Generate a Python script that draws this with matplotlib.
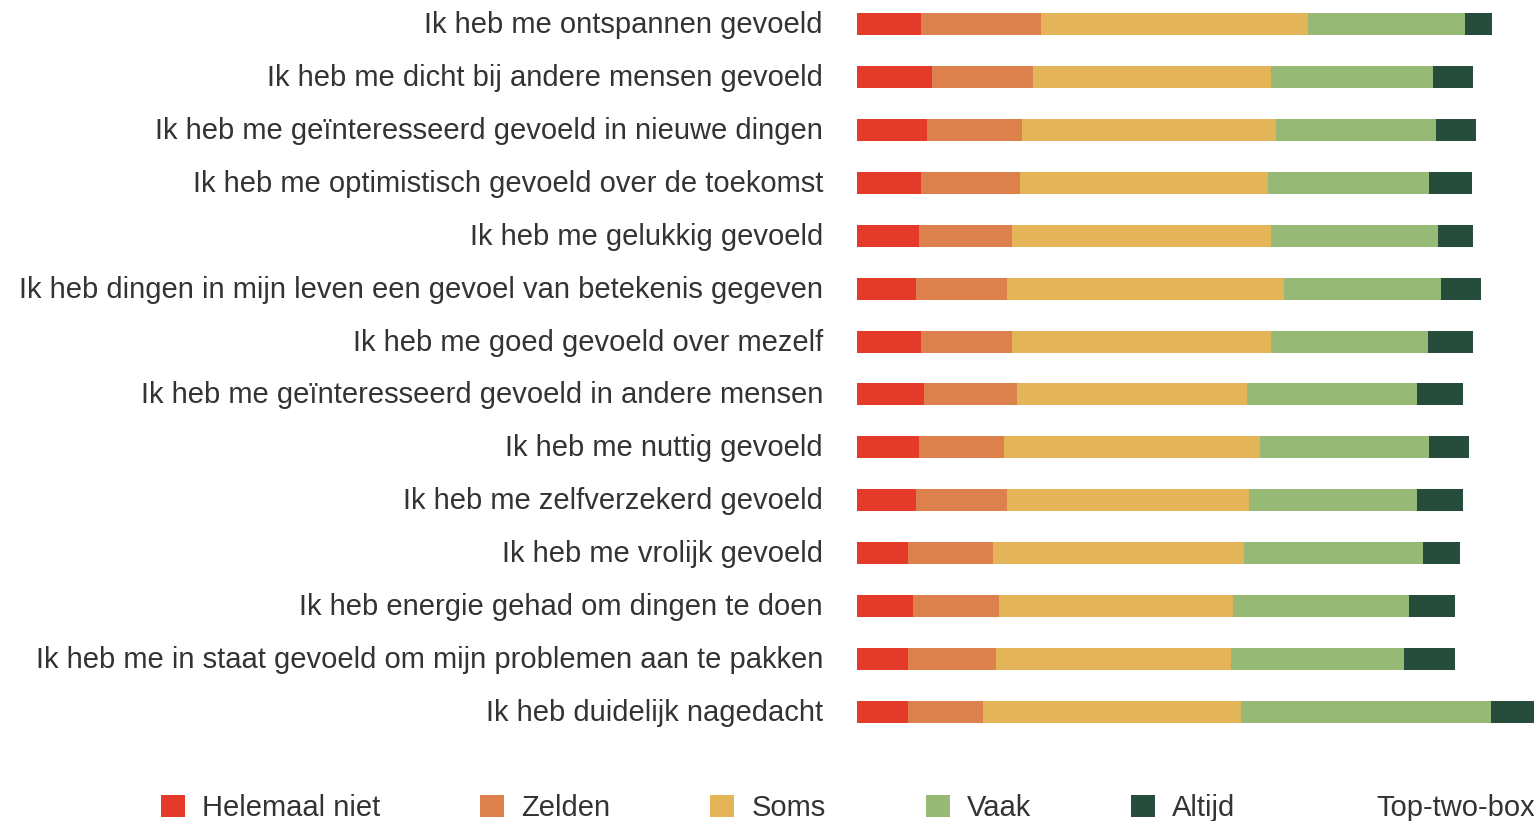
import matplotlib
matplotlib.use("Agg")
import matplotlib.pyplot as plt
from matplotlib.patches import Patch
from matplotlib.transforms import ScaledTranslation
import numpy as np

categories = [
    "Ik heb me ontspannen gevoeld",
    "Ik heb me dicht bij andere mensen gevoeld",
    "Ik heb me geïnteresseerd gevoeld in nieuwe dingen",
    "Ik heb me optimistisch gevoeld over de toekomst",
    "Ik heb me gelukkig gevoeld",
    "Ik heb dingen in mijn leven een gevoel van betekenis gegeven",
    "Ik heb me goed gevoeld over mezelf",
    "Ik heb me geïnteresseerd gevoeld in andere mensen",
    "Ik heb me nuttig gevoeld",
    "Ik heb me zelfverzekerd gevoeld",
    "Ik heb me vrolijk gevoeld",
    "Ik heb energie gehad om dingen te doen",
    "Ik heb me in staat gevoeld om mijn problemen aan te pakken",
    "Ik heb duidelijk nagedacht",
]

helemaal_niet = [10.1, 11.8, 11.0, 10.1, 9.8, 9.3, 10.1, 10.6, 9.8, 9.3, 8.0, 8.8, 8.0, 8.0]
zelden        = [18.9, 15.9, 15.0, 15.6, 14.6, 14.3, 14.3, 14.6, 13.4, 14.3, 13.4, 13.5, 13.9, 11.8]
soms          = [42.0, 37.5, 40.0, 39.1, 40.8, 43.6, 40.8, 36.2, 40.3, 38.1, 39.5, 36.9, 37.0, 40.6]
vaak          = [24.7, 25.5, 25.2, 25.2, 26.3, 24.7, 24.7, 26.8, 26.5, 26.5, 28.2, 27.7, 27.2, 39.5]
altijd        = [4.3, 6.3, 6.3, 6.8, 5.5, 6.3, 7.1, 7.2, 6.3, 7.2, 5.8, 7.2, 8.0, 7.0]

series_names = ["Helemaal niet", "Zelden", "Soms", "Vaak", "Altijd"]
colors = ["#E33A29", "#DC814C", "#E3B458", "#96BA75", "#264C3B"]

W, H = 1534, 821
FONT = "Liberation Sans"
FS = 21.0
fspx = FS * 100 / 72

fig = plt.figure(figsize=(W / 100, H / 100), dpi=100)
fig.patch.set_facecolor("white")

ax = fig.add_axes([857 / W, 1 - 740 / H, 1 - 857 / W, 740 / H])
y = np.arange(len(categories))
left = np.zeros(len(categories))
for name, vals, c in zip(series_names, [helemaal_niet, zelden, soms, vaak, altijd], colors):
    v = np.array(vals)
    ax.barh(y, v, left=left, height=0.416, color=c, label=name, linewidth=0)
    left += v

ax.set_xlim(0, 677 / 6.35)
ax.set_ylim(13.53, -0.4535)
ax.set_yticks(y)
ax.set_yticklabels(categories, fontsize=FS, color="#333333", family=FONT)
ax.tick_params(axis="y", length=0, pad=24.5)
offset = ScaledTranslation(0, 2 / 100, fig.dpi_scale_trans)
for lbl in ax.get_yticklabels():
    lbl.set_transform(lbl.get_transform() + offset)
ax.set_xticks([])
for s in ax.spines.values():
    s.set_visible(False)

handles = [Patch(facecolor=c, edgecolor="none") for c in colors]
handles.append(Patch(facecolor="none", edgecolor="none"))
labels = series_names + ["Top-two-box"]
fig.legend(handles, labels, loc="center left", bbox_to_anchor=(161 / W, 1 - 808 / H),
           ncol=6, frameon=False, borderpad=0, borderaxespad=0,
           handlelength=24 / fspx, handleheight=22 / fspx, handletextpad=17 / fspx,
           columnspacing=100 / fspx,
           prop={"family": FONT, "size": FS}, labelcolor="#333333")

fig.savefig("out.png", dpi=100, facecolor="white")
